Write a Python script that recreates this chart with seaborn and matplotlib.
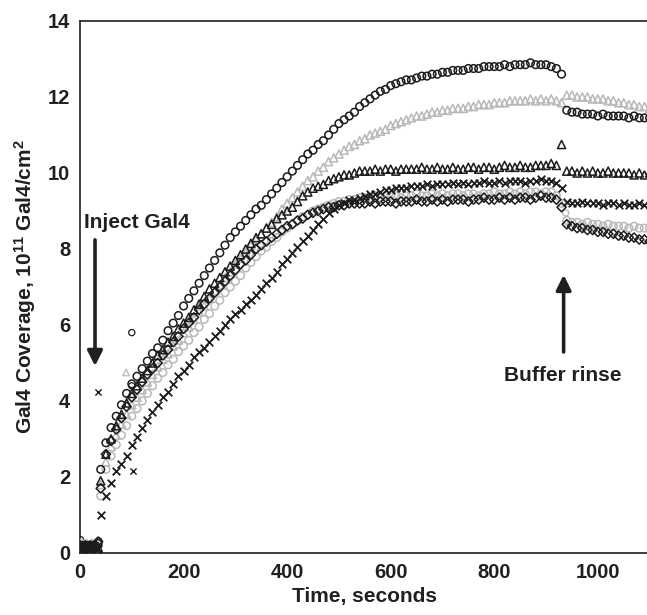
import matplotlib
matplotlib.use("Agg")
import matplotlib.pyplot as plt
import seaborn as sns
import numpy as np
import pandas as pd

# ---------------- data ----------------
T_BASE = [0, 5, 10, 15, 20, 25, 30, 35]
T_RISE = list(range(40, 940, 10))      # 40 .. 930 s
T_RINSE = list(range(940, 1101, 10))   # 940 .. 1100 s

# series A : black open circles (top)
A_BASE = [0.15, 0.2, 0.15, 0.2, 0.15, 0.2, 0.15, 0.25]
A_RISE = [2.2, 2.9, 3.3, 3.6, 3.9, 4.2, 4.45, 4.65, 4.85, 5.05,
          5.25, 5.4, 5.6, 5.85, 6.05, 6.25, 6.5, 6.7, 6.9, 7.1,
          7.3, 7.5, 7.7, 7.9, 8.1, 8.3, 8.45, 8.6, 8.75, 8.9,
          9.05, 9.15, 9.3, 9.45, 9.6, 9.75, 9.9, 10.05, 10.2, 10.35,
          10.5, 10.6, 10.75, 10.85, 11.0, 11.15, 11.3, 11.4, 11.5, 11.6,
          11.75, 11.85, 11.95, 12.05, 12.15, 12.2, 12.3, 12.35, 12.4, 12.45,
          12.45, 12.5, 12.55, 12.55, 12.6, 12.6, 12.65, 12.65, 12.7, 12.7,
          12.7, 12.75, 12.75, 12.75, 12.8, 12.8, 12.8, 12.8, 12.85, 12.8,
          12.85, 12.85, 12.85, 12.9, 12.85, 12.85, 12.85, 12.8, 12.75, 12.6]
A_RINSE = [11.65, 11.6, 11.6, 11.55, 11.55, 11.55, 11.5, 11.55, 11.5,
           11.5, 11.5, 11.5, 11.45, 11.5, 11.45, 11.45, 11.45]

# series B : black open triangles
B_BASE = [0.1, 0.15, 0.1, 0.15, 0.1, 0.15, 0.1, 0.15]
B_RISE = [1.9, 2.6, 3.0, 3.35, 3.65, 3.95, 4.2, 4.4, 4.6, 4.8,
          5.0, 5.2, 5.35, 5.55, 5.7, 5.9, 6.05, 6.2, 6.4, 6.55,
          6.75, 6.95, 7.1, 7.25, 7.4, 7.55, 7.7, 7.85, 8.0, 8.15,
          8.3, 8.4, 8.55, 8.65, 8.8, 8.9, 9.0, 9.1, 9.25, 9.4,
          9.5, 9.6, 9.65, 9.7, 9.8, 9.85, 9.9, 9.95, 9.95, 10.0,
          10.05, 10.05, 10.05, 10.1, 10.05, 10.1, 10.1, 10.05, 10.1, 10.1,
          10.1, 10.1, 10.15, 10.1, 10.1, 10.15, 10.1, 10.1, 10.15, 10.1,
          10.1, 10.15, 10.15, 10.1, 10.15, 10.15, 10.1, 10.15, 10.2, 10.15,
          10.15, 10.2, 10.15, 10.15, 10.2, 10.2, 10.2, 10.25, 10.2, 10.75]
B_RINSE = [10.05, 10.05, 10.0, 10.05, 10.0, 10.05, 10.0, 10.0, 10.05,
           10.0, 10.0, 10.0, 10.0, 9.95, 10.0, 9.95, 10.0]

# series C : gray open triangles
C_BASE = [0.2, 0.15, 0.2, 0.15, 0.2, 0.15, 0.2, 0.15]
C_RISE = [1.8, 2.4, 2.8, 3.1, 3.4, 3.65, 3.9, 4.1, 4.3, 4.5,
          4.7, 4.9, 5.1, 5.25, 5.45, 5.6, 5.8, 5.95, 6.15, 6.35,
          6.5, 6.7, 6.9, 7.05, 7.25, 7.4, 7.6, 7.75, 7.9, 8.1,
          8.25, 8.4, 8.55, 8.7, 8.85, 9.05, 9.2, 9.35, 9.5, 9.65,
          9.8, 9.9, 10.05, 10.15, 10.3, 10.4, 10.5, 10.6, 10.7, 10.75,
          10.85, 10.9, 11.0, 11.05, 11.1, 11.15, 11.25, 11.3, 11.35, 11.4,
          11.45, 11.5, 11.5, 11.55, 11.6, 11.6, 11.65, 11.65, 11.7, 11.7,
          11.7, 11.75, 11.75, 11.8, 11.8, 11.8, 11.85, 11.85, 11.85, 11.9,
          11.9, 11.9, 11.9, 11.95, 11.9, 11.95, 11.9, 11.95, 11.9, 11.85]
C_RINSE = [12.05, 12.05, 12.0, 12.0, 12.0, 11.95, 11.95, 11.95, 11.9,
           11.9, 11.85, 11.85, 11.8, 11.8, 11.75, 11.75, 11.7]

# series D : black crosses (lowest during rise)
D_BASE = [0.1, 0.1, 0.15, 0.1, 0.1, 0.15, 0.1, 0.1]
D_RISE = [1.0, 1.5, 1.85, 2.15, 2.35, 2.55, 2.85, 3.05, 3.3, 3.5,
          3.7, 3.9, 4.1, 4.25, 4.45, 4.65, 4.8, 4.95, 5.15, 5.3,
          5.4, 5.55, 5.7, 5.85, 6.0, 6.15, 6.3, 6.4, 6.55, 6.65,
          6.8, 6.95, 7.1, 7.25, 7.4, 7.6, 7.75, 7.9, 8.05, 8.2,
          8.35, 8.5, 8.65, 8.8, 8.95, 9.05, 9.15, 9.2, 9.3, 9.3,
          9.35, 9.4, 9.45, 9.45, 9.5, 9.55, 9.55, 9.6, 9.6, 9.6,
          9.65, 9.65, 9.65, 9.7, 9.65, 9.7, 9.7, 9.7, 9.75, 9.7,
          9.75, 9.7, 9.75, 9.75, 9.8, 9.75, 9.75, 9.8, 9.75, 9.8,
          9.8, 9.8, 9.75, 9.8, 9.8, 9.85, 9.8, 9.8, 9.75, 9.6]
D_RINSE = [9.25, 9.2, 9.2, 9.25, 9.2, 9.2, 9.2, 9.15, 9.2,
           9.2, 9.15, 9.2, 9.15, 9.15, 9.2, 9.15, 9.15]

# series E : gray open circles
E_BASE = [0.25, 0.2, 0.25, 0.2, 0.2, 0.25, 0.2, 0.2]
E_RISE = [1.5, 2.2, 2.55, 2.85, 3.1, 3.35, 3.6, 3.8, 4.0, 4.2,
          4.4, 4.6, 4.75, 4.95, 5.1, 5.3, 5.45, 5.6, 5.8, 5.95,
          6.15, 6.3, 6.5, 6.65, 6.85, 7.0, 7.15, 7.3, 7.5, 7.65,
          7.8, 7.95, 8.05, 8.2, 8.3, 8.45, 8.55, 8.65, 8.75, 8.85,
          8.9, 9.0, 9.05, 9.1, 9.15, 9.2, 9.25, 9.25, 9.3, 9.3,
          9.35, 9.35, 9.35, 9.4, 9.35, 9.4, 9.4, 9.4, 9.35, 9.4,
          9.4, 9.45, 9.4, 9.4, 9.45, 9.4, 9.45, 9.4, 9.45, 9.45,
          9.4, 9.45, 9.45, 9.4, 9.45, 9.45, 9.5, 9.45, 9.45, 9.5,
          9.45, 9.5, 9.45, 9.5, 9.5, 9.45, 9.5, 9.5, 9.4, 9.2]
E_RINSE = [8.75, 8.7, 8.7, 8.65, 8.7, 8.65, 8.65, 8.6, 8.65,
           8.6, 8.6, 8.6, 8.55, 8.6, 8.55, 8.55, 8.55]

# series F : black open diamonds
F_BASE = [0.2, 0.1, 0.2, 0.15, 0.2, 0.1, 0.2, 0.3]
F_RISE = [1.7, 2.6, 2.95, 3.25, 3.55, 3.85, 4.1, 4.3, 4.5, 4.7,
          4.85, 5.0, 5.2, 5.35, 5.55, 5.7, 5.9, 6.05, 6.2, 6.4,
          6.55, 6.7, 6.85, 7.0, 7.15, 7.3, 7.45, 7.6, 7.7, 7.85,
          8.0, 8.1, 8.2, 8.3, 8.4, 8.5, 8.6, 8.65, 8.75, 8.8,
          8.9, 8.95, 9.0, 9.05, 9.1, 9.1, 9.15, 9.15, 9.2, 9.2,
          9.2, 9.2, 9.25, 9.2, 9.25, 9.25, 9.25, 9.2, 9.25, 9.25,
          9.25, 9.3, 9.25, 9.25, 9.3, 9.25, 9.3, 9.25, 9.3, 9.3,
          9.3, 9.25, 9.3, 9.3, 9.35, 9.3, 9.3, 9.35, 9.3, 9.35,
          9.3, 9.35, 9.35, 9.3, 9.35, 9.4, 9.35, 9.35, 9.3, 9.1]
F_RINSE = [8.65, 8.6, 8.55, 8.55, 8.5, 8.5, 8.45, 8.45, 8.4,
           8.4, 8.35, 8.35, 8.3, 8.3, 8.25, 8.25, 8.2]

# stray points
OUT_CIRCLE_T = [1, 36, 100, 100]
OUT_CIRCLE_V = [0.35, 0.32, 5.8, 4.4]
OUT_CROSS_T = [35, 103]
OUT_CROSS_V = [4.25, 2.15]
OUT_TRI_T = [89]
OUT_TRI_V = [4.75]
OUT_GCIRC_T = [936, 938]
OUT_GCIRC_V = [9.2, 8.95]

SERIES = {
    "A": (A_BASE, A_RISE, A_RINSE),
    "B": (B_BASE, B_RISE, B_RINSE),
    "C": (C_BASE, C_RISE, C_RINSE),
    "D": (D_BASE, D_RISE, D_RINSE),
    "E": (E_BASE, E_RISE, E_RINSE),
    "F": (F_BASE, F_RISE, F_RINSE),
}

BLACK = "#1c1c1c"
GRAY = "#b8b8b8"
TXT = "#231f20"
STYLE = {
    "C": dict(marker="^", ec=GRAY, s=34),
    "E": dict(marker="o", ec=GRAY, s=30),
    "A": dict(marker="o", ec=BLACK, s=30),
    "B": dict(marker="^", ec=BLACK, s=34),
    "F": dict(marker="D", ec=BLACK, s=22),
    "D": dict(marker="x", ec=BLACK, s=30),
}

# ---------------- figure ----------------
sns.set_style("white")
plt.rcParams["font.family"] = ["Liberation Sans", "DejaVu Sans"]
plt.rcParams["font.weight"] = "bold"
plt.rcParams["mathtext.fontset"] = "custom"
plt.rcParams["mathtext.bf"] = "Liberation Sans:bold"
plt.rcParams["mathtext.rm"] = "Liberation Sans:bold"
plt.rcParams["mathtext.default"] = "bf"

fig = plt.figure(figsize=(6.47, 6.15), dpi=100)
ax = fig.add_axes([80 / 647, 1 - 553 / 615, 1.0 - 80 / 647 + 0.004, (553 - 21) / 615])

for name in ["C", "E", "A", "B", "F", "D"]:
    base, rise, rinse = SERIES[name]
    t = T_BASE + T_RISE + T_RINSE
    v = base + rise + rinse
    df = pd.DataFrame({"t": t, "v": v})
    st = STYLE[name]
    if st["marker"] == "x":
        sns.scatterplot(data=df, x="t", y="v", marker="x", color=st["ec"], s=st["s"],
                        linewidth=1.3, ax=ax, zorder=3)
    else:
        sns.scatterplot(data=df, x="t", y="v", marker=st["marker"], s=st["s"],
                        facecolor="none", edgecolor=st["ec"], linewidth=1.1, ax=ax,
                        zorder=3)

sns.scatterplot(x=OUT_CIRCLE_T, y=OUT_CIRCLE_V, marker="o", s=20, facecolor="none",
                edgecolor=BLACK, linewidth=0.9, ax=ax)
sns.scatterplot(x=OUT_CROSS_T, y=OUT_CROSS_V, marker="x", s=20, color=BLACK,
                linewidth=1.0, ax=ax)
sns.scatterplot(x=OUT_TRI_T, y=OUT_TRI_V, marker="^", s=22, facecolor="none",
                edgecolor=GRAY, linewidth=0.9, ax=ax)
sns.scatterplot(x=OUT_GCIRC_T, y=OUT_GCIRC_V, marker="o", s=20, facecolor="none",
                edgecolor=GRAY, linewidth=0.9, ax=ax)

ax.set_xlim(0, 1100)
ax.set_ylim(0, 14)
ax.set_xticks([0, 200, 400, 600, 800, 1000])
ax.set_yticks([0, 2, 4, 6, 8, 10, 12, 14])
ax.tick_params(direction="in", length=6.5, width=1.0, colors=TXT, labelsize=14.5,
               top=False, right=False, pad=7)
for lab in ax.get_xticklabels() + ax.get_yticklabels():
    lab.set_fontweight("bold")
for side in ["left", "bottom", "top"]:
    ax.spines[side].set_linewidth(1.2)
    ax.spines[side].set_color(TXT)
ax.spines["right"].set_visible(False)

ax.set_xlabel("Time, seconds", fontsize=15, fontweight="bold", color=TXT, labelpad=4)
ax.set_ylabel(r"Gal4 Coverage, 10$^{11}$ Gal4/cm$^{2}$", fontsize=15,
              fontweight="bold", color=TXT, labelpad=7)

arrow = dict(arrowstyle="-|>,head_width=0.45,head_length=0.9", lw=2.6, color=TXT,
             shrinkA=0, shrinkB=0)
ax.annotate("", xy=(29, 4.92), xytext=(29, 8.24), arrowprops=arrow)
ax.text(8, 8.7, "Inject Gal4", fontsize=15, fontweight="bold", color=TXT,
        ha="left", va="center")
ax.annotate("", xy=(934, 7.32), xytext=(934, 5.29), arrowprops=arrow)
ax.text(932, 4.68, "Buffer rinse", fontsize=15, fontweight="bold", color=TXT,
        ha="center", va="center")

fig.savefig("out.png", dpi=100)
